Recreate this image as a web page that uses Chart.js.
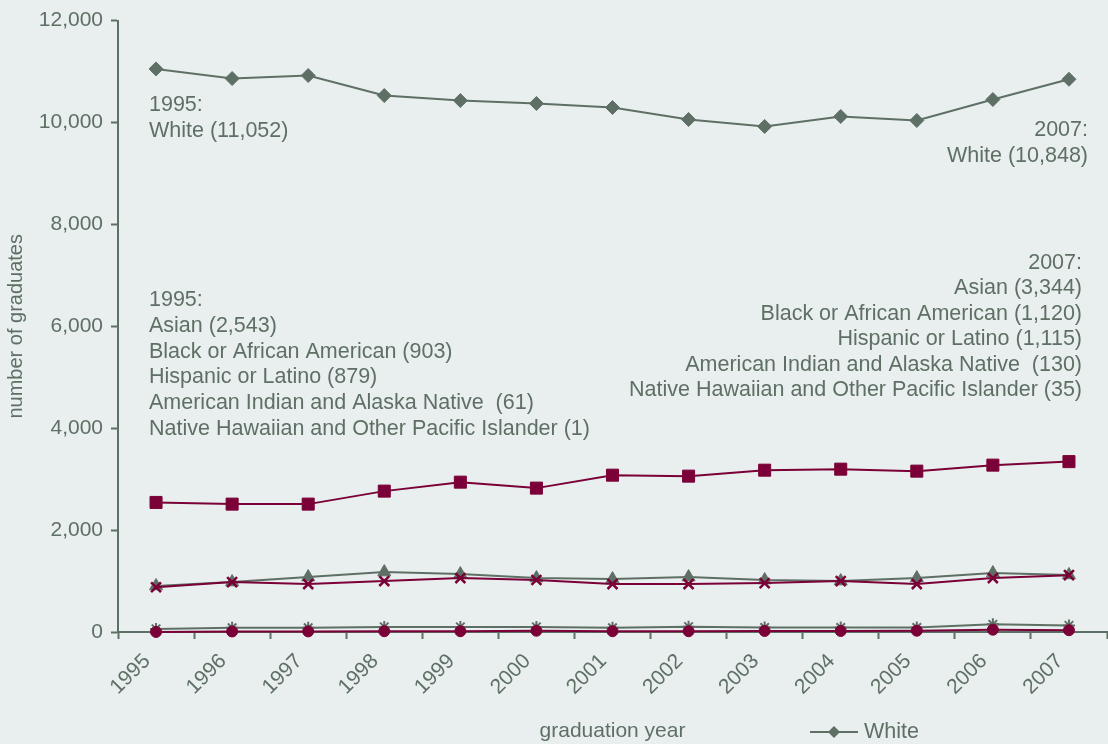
<!DOCTYPE html>
<html>
<head>
<meta charset="utf-8">
<script src="https://cdn.jsdelivr.net/npm/chart.js@4"></script>
<style>
  body { margin: 0; background: #e9eeee; }
  #wrap { width: 1108px; height: 744px; }
</style>
</head>
<body>
<div id="wrap"><canvas id="grads" width="1108" height="744"></canvas></div>
<script>
// graduates by race/ethnicity, 1995-2007
const years = ['1995', '1996', '1997', '1998', '1999', '2000', '2001', '2002', '2003', '2004', '2005', '2006', '2007'];

const white = [11052, 10863, 10922, 10529, 10431, 10373, 10294, 10059, 9922, 10118, 10039, 10451, 10848];
const asian = [2543, 2510, 2510, 2765, 2941, 2824, 3078, 3059, 3176, 3196, 3157, 3275, 3344];
const black = [903, 980, 1078, 1176, 1137, 1059, 1039, 1078, 1020, 1000, 1059, 1157, 1120];
const hispanic = [879, 980, 941, 1000, 1059, 1020, 941, 941, 960, 1000, 941, 1059, 1115];
const amIndian = [61, 85, 85, 100, 100, 100, 85, 105, 90, 90, 90, 150, 130];
const hawaiian = [1, 10, 12, 15, 15, 25, 15, 15, 20, 20, 25, 45, 35];

const yTicks = [0, 2000, 4000, 6000, 8000, 10000, 12000];

// note text
const noteWhite1995 = ['1995:', 'White (11,052)'];
const noteWhite2007 = ['2007:', 'White (10,848)'];
const noteOther1995 = ['1995:', 'Asian (2,543)', 'Black or African American (903)', 'Hispanic or Latino (879)',
  'American Indian and Alaska Native  (61)', 'Native Hawaiian and Other Pacific Islander (1)'];
const noteOther2007 = ['2007:', 'Asian (3,344)', 'Black or African American (1,120)', 'Hispanic or Latino (1,115)',
  'American Indian and Alaska Native  (130)', 'Native Hawaiian and Other Pacific Islander (35)'];

const GRAY = '#5e7065';
const MAROON = '#7a0037';
const FONT = 'Liberation Sans, Arial, sans-serif';

function series(label, data, color, style, radius, order, markBorder) {
    return {
        label: label,
        data: data,
        borderColor: color,
        backgroundColor: color,
        borderWidth: 2,
        pointStyle: style,
        pointRadius: radius,
        pointBorderWidth: markBorder || 1,
        pointBorderColor: color,
        pointBackgroundColor: color,
        tension: 0,
        clip: false, // markers sitting on the x axis should not get cut
        order: order
    };
}

// text notes + the single legend entry at the bottom
const notesPlugin = {
    id: 'notes',
    afterDraw(chart) {
        const ctx = chart.ctx;
        ctx.save();
        ctx.fillStyle = GRAY;
        ctx.font = '21.5px ' + FONT;
        ctx.textBaseline = 'middle';

        ctx.textAlign = 'left';
        noteWhite1995.forEach((t, i) => ctx.fillText(t, 149, 105 + i * 26));
        noteOther1995.forEach((t, i) => ctx.fillText(t, 149, 300 + i * 25.8));

        ctx.textAlign = 'right';
        noteWhite2007.forEach((t, i) => ctx.fillText(t, 1088, 130 + i * 26));
        noteOther2007.forEach((t, i) => ctx.fillText(t, 1082, 263 + i * 25.4));

        // legend sample
        ctx.strokeStyle = GRAY;
        ctx.lineWidth = 2;
        ctx.beginPath();
        ctx.moveTo(810, 732);
        ctx.lineTo(858, 732);
        ctx.stroke();
        ctx.beginPath();
        ctx.moveTo(834 - 6, 732);
        ctx.lineTo(834, 732 - 6);
        ctx.lineTo(834 + 6, 732);
        ctx.lineTo(834, 732 + 6);
        ctx.closePath();
        ctx.fill();
        ctx.textAlign = 'left';
        ctx.fillText(chart.data.datasets[0].label, 864, 732);
        ctx.restore();
    }
};

new Chart(document.getElementById('grads'), {
    type: 'line',
    data: {
        labels: years,
        datasets: [
            series('White', white, GRAY, 'rectRot', 7, 2),
            series('Asian', asian, MAROON, 'rect', 8.5, 0),
            series('Black or African American', black, GRAY, 'triangle', 7.5, 2),
            series('Hispanic or Latino', hispanic, MAROON, 'crossRot', 7, 1, 2.5),
            series('American Indian and Alaska Native', amIndian, GRAY, 'star', 6, 2, 2),
            series('Native Hawaiian and Other Pacific Islander', hawaiian, MAROON, 'circle', 5.5, 1)
        ]
    },
    options: {
        responsive: false,
        animation: false,
        layout: { autoPadding: false, padding: { top: 20, right: 1, left: 0, bottom: 0 } },
        plugins: {
            legend: { display: false },
            tooltip: { enabled: false }
        },
        scales: {
            x: {
                offset: true,
                afterFit: (s) => { s.height = 112; s.paddingLeft = 0; s.paddingRight = 0; },
                grid: {
                    offset: true,
                    drawOnChartArea: false,
                    tickLength: 7,
                    tickColor: GRAY,
                    tickWidth: 2
                },
                border: { color: GRAY, width: 2 },
                ticks: {
                    color: GRAY,
                    font: { family: FONT, size: 21 },
                    minRotation: 45,
                    maxRotation: 45,
                    padding: 10,
                    labelOffset: -9
                },
                title: {
                    display: true,
                    text: 'graduation year',
                    color: GRAY,
                    font: { family: FONT, size: 21 },
                    padding: { top: 0, bottom: 0 }
                }
            },
            y: {
                min: 0,
                max: 12000,
                afterFit: (s) => { s.width = 118; },
                afterBuildTicks: (s) => { s.ticks = yTicks.map(v => ({ value: v })); },
                grid: {
                    drawOnChartArea: false,
                    tickLength: 7,
                    tickColor: GRAY,
                    tickWidth: 2
                },
                border: { color: GRAY, width: 2 },
                ticks: {
                    color: GRAY,
                    font: { family: FONT, size: 21 },
                    padding: 8,
                    callback: (v) => v.toLocaleString('en-US')
                },
                title: {
                    display: true,
                    text: 'number of graduates',
                    color: GRAY,
                    font: { family: FONT, size: 20 },
                    padding: { top: 4, bottom: 0 }
                }
            }
        }
    },
    plugins: [notesPlugin]
});
</script>
</body>
</html>
